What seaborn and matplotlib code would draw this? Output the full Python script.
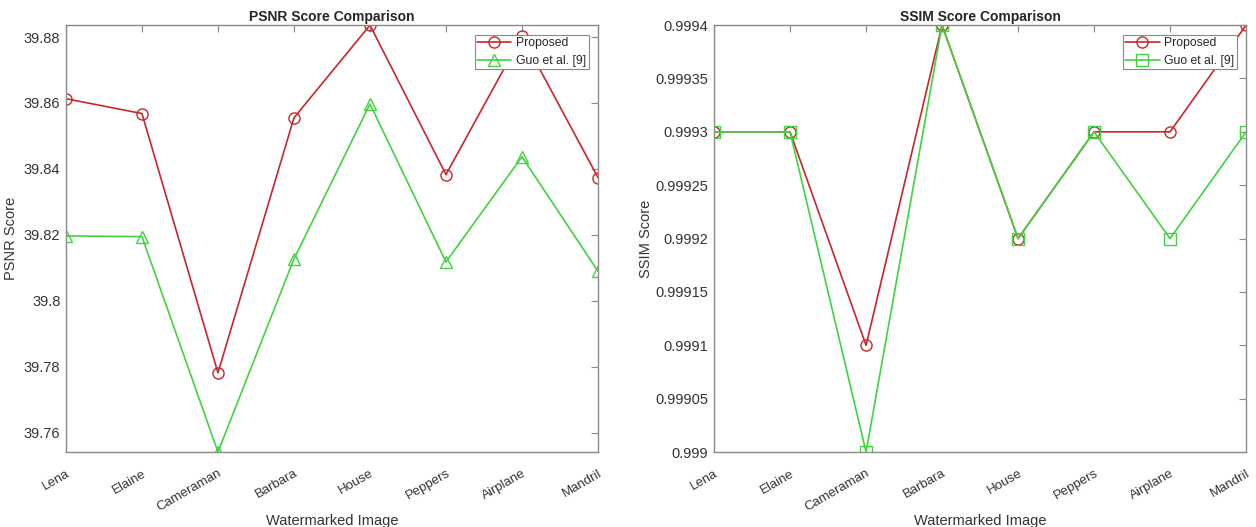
import numpy as np
import pandas as pd
import matplotlib
matplotlib.use("Agg")
import matplotlib.pyplot as plt
import seaborn as sns

# Data
images = ['Lena', 'Elaine', 'Cameraman', 'Barbara', 'House', 'Peppers', 'Airplane', 'Mandril']
psnr_proposed = [39.8613, 39.8568, 39.7782, 39.8555, 39.8836, 39.8383, 39.8803, 39.8374]
psnr_guo = [39.8197, 39.8195, 39.7542, 39.8127, 39.8597, 39.8118, 39.8437, 39.8090]
ssim_proposed = [0.9993, 0.9993, 0.9991, 0.9994, 0.9992, 0.9993, 0.9993, 0.9994]
ssim_guo = [0.9993, 0.9993, 0.9990, 0.9994, 0.9992, 0.9993, 0.9992, 0.9993]
series_names = ['Proposed', 'Guo et al. [9]']

psnr_ticks = [39.76, 39.78, 39.80, 39.82, 39.84, 39.86, 39.88]
ssim_ticks = [0.999, 0.99905, 0.9991, 0.99915, 0.9992, 0.99925, 0.9993, 0.99935, 0.9994]

RED = '#c8262b'
GREEN = '#3fd43f'
AXIS_GRAY = '#8a8a8a'
TEXT_GRAY = '#333333'

sns.set_style('white')
plt.rcParams['font.family'] = ['Liberation Sans', 'DejaVu Sans']


def make_frame(proposed, guo):
    return pd.DataFrame({
        'Image': images * 2,
        'Score': proposed + guo,
        'Method': [series_names[0]] * len(images) + [series_names[1]] * len(images),
    })


def draw_panel(ax, df, second_marker, ticks, ylim, title, ylabel, ylabel_x):
    sns.lineplot(data=df, x='Image', y='Score', hue='Method', style='Method',
                 palette=[RED, GREEN], markers=['o', second_marker], dashes=False,
                 markersize=8, markeredgewidth=1.0, linewidth=1.2, ax=ax, sort=False)
    for line, col in zip(ax.get_lines()[:2], [RED, GREEN]):
        line.set_markeredgecolor(col)
        line.set_markerfacecolor('none')
    ax.set_xlim(0, len(images) - 1)
    ax.set_ylim(*ylim)
    ax.set_xticks(range(len(images)))
    ax.set_xticklabels(images, rotation=30, ha='right', rotation_mode='anchor',
                       color=TEXT_GRAY, fontsize=9.5)
    ax.set_yticks(ticks)
    ax.set_yticklabels(['{:g}'.format(round(t, 6)) for t in ticks],
                       color=TEXT_GRAY, fontsize=10.5)
    ax.tick_params(direction='in', length=5, width=0.8, color=AXIS_GRAY,
                   top=True, right=True, pad=4)
    ax.tick_params(axis='x', pad=11)
    for sp in ax.spines.values():
        sp.set_color(AXIS_GRAY)
        sp.set_linewidth(1.0)
        sp.set_visible(True)
    ax.set_title(title, fontsize=10, fontweight='bold', pad=3)
    ax.set_xlabel('Watermarked Image', fontsize=10.5, color=TEXT_GRAY, labelpad=0)
    ax.set_ylabel(ylabel, fontsize=10.5, color=TEXT_GRAY)
    ax.yaxis.set_label_coords(ylabel_x, 0.5)

    handles, labels = ax.get_legend_handles_labels()
    for h, col in zip(handles, [RED, GREEN]):
        h.set_markerfacecolor('none')
        h.set_markeredgecolor(col)
    leg = ax.legend(handles, labels, loc='upper right', bbox_to_anchor=(0.983, 0.977),
                    fancybox=False, framealpha=1, edgecolor=AXIS_GRAY, fontsize=8.8,
                    handlelength=2.8, borderpad=0.2, labelspacing=0.45,
                    handletextpad=0.4, borderaxespad=0.0)
    leg.get_frame().set_linewidth(0.8)


fig = plt.figure(figsize=(12.56, 5.27), dpi=100)
ax1 = fig.add_axes([0.0525, 0.1423, 0.4236, 0.810])
ax2 = fig.add_axes([0.5685, 0.1423, 0.4236, 0.810])

draw_panel(ax1, make_frame(psnr_proposed, psnr_guo), '^', psnr_ticks,
           (39.7542, 39.8836), 'PSNR Score Comparison', 'PSNR Score', -0.09)
draw_panel(ax2, make_frame(ssim_proposed, ssim_guo), 's', ssim_ticks,
           (0.999, 0.9994), 'SSIM Score Comparison', 'SSIM Score', -0.115)

fig.savefig('out.png', dpi=100)
